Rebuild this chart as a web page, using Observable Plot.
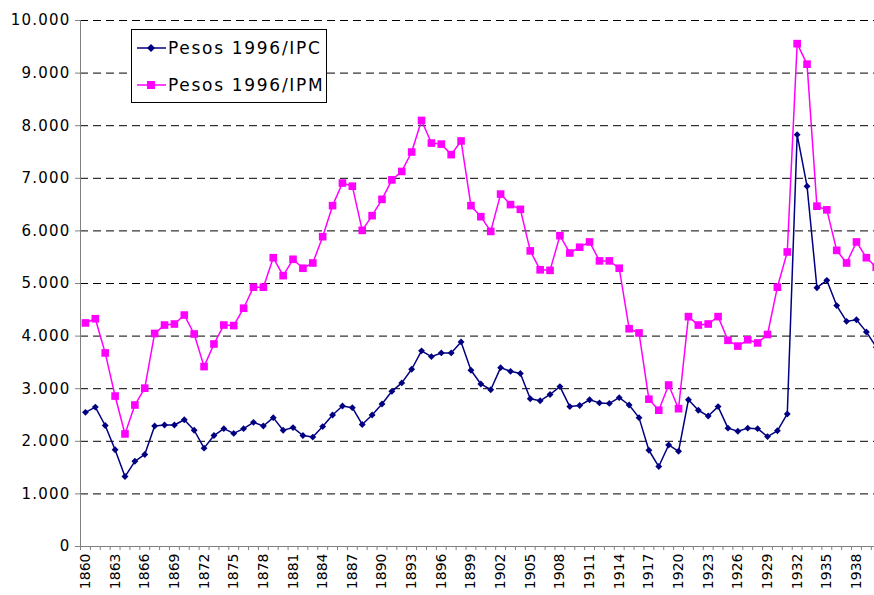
<!DOCTYPE html>
<html><head><meta charset="utf-8">
<script src="https://cdn.jsdelivr.net/npm/d3@7"></script>
<script src="https://cdn.jsdelivr.net/npm/@observablehq/plot@0.6"></script>
<style>
html,body{margin:0;padding:0;background:#fff;overflow:hidden;}
#wrap{position:relative;width:874px;height:595px;overflow:hidden;}
#legend{position:absolute;left:131px;top:29px;width:194px;height:72px;border:1px solid #000;background:#fff;font-family:"DejaVu Sans",sans-serif;font-size:17px;letter-spacing:1.7px;color:#000;}
.row{position:absolute;left:5px;height:20px;display:flex;align-items:center;white-space:nowrap;}
.row svg{margin-right:2px;}
.yax text{letter-spacing:1.2px;}
</style>
</head><body>
<div id="wrap"></div>
<script>
const years = [1860,1861,1862,1863,1864,1865,1866,1867,1868,1869,
1870,1871,1872,1873,1874,1875,1876,1877,1878,1879,
1880,1881,1882,1883,1884,1885,1886,1887,1888,1889,
1890,1891,1892,1893,1894,1895,1896,1897,1898,1899,
1900,1901,1902,1903,1904,1905,1906,1907,1908,1909,
1910,1911,1912,1913,1914,1915,1916,1917,1918,1919,
1920,1921,1922,1923,1924,1925,1926,1927,1928,1929,
1930,1931,1932,1933,1934,1935,1936,1937,1938,1939,1940];

const ipc = [2550,2650,2300,1840,1330,1620,1750,2290,2310,2310,
2410,2210,1870,2110,2240,2150,2240,2360,2290,2450,
2210,2260,2110,2080,2280,2500,2670,2640,2320,2500,
2710,2950,3110,3370,3720,3610,3680,3680,3890,3350,
3090,2980,3400,3330,3290,2810,2770,2890,3040,2660,
2680,2790,2730,2720,2830,2690,2450,1830,1520,1930,
1810,2790,2590,2480,2660,2250,2190,2250,2240,2090,
2200,2520,7830,6850,4920,5060,4580,4280,4310,4080,3790];

const ipm = [4250,4330,3680,2860,2140,2690,3010,4050,4210,4230,
4400,4040,3420,3850,4210,4200,4530,4930,4930,5490,
5150,5460,5290,5390,5890,6480,6910,6850,6010,6290,
6600,6970,7130,7500,8100,7670,7650,7450,7710,6480,
6270,5990,6700,6500,6410,5620,5260,5250,5910,5580,
5690,5790,5430,5430,5290,4140,4060,2800,2590,3070,
2620,4370,4210,4230,4370,3920,3810,3930,3870,4030,
4930,5600,9560,9170,6470,6400,5630,5390,5790,5490,5310];

const seriesNames = ["Pesos 1996/IPC", "Pesos 1996/IPM"];
const seriesColors = ["#000080", "#FF00FF"];
const yTicks = [0,1000,2000,3000,4000,5000,6000,7000,8000,9000,10000];
const xLabelYears = [1860,1863,1866,1869,1872,1875,1878,1881,1884,1887,1890,1893,1896,1899,1902,1905,1908,1911,1914,1917,1920,1923,1926,1929,1932,1935,1938];

const fmt = d3.formatLocale({decimal: ",", thousands: ".", grouping: [3], currency: ["", ""]}).format(",");
const rowsIPC = years.map((y, i) => ({year: y, v: ipc[i]}));
const rowsIPM = years.map((y, i) => ({year: y, v: ipm[i]}));
const boundaries = years.map(y => y - 0.5).concat([years[years.length - 1] + 0.5]);
const band = 9.885;

const chart = Plot.plot({
  width: 874, height: 595,
  marginLeft: 80, marginRight: 0, marginTop: 20, marginBottom: 49,
  style: {fontFamily: "DejaVu Sans, sans-serif", background: "white"},
  x: {domain: [boundaries[0], boundaries[boundaries.length - 1]], range: [80, 80 + years.length * band], axis: null},
  y: {domain: [0, 10000], axis: null},
  marks: [
    Plot.ruleY(yTicks.filter(d => d > 0), {stroke: "#000", strokeDasharray: "8,5", strokeWidth: 1}),
    Plot.ruleY([0], {stroke: "#808080"}),
    Plot.ruleX([boundaries[0]], {stroke: "#808080"}),
    Plot.axisY({ticks: yTicks, tickSize: 5, tickPadding: 5, tickFormat: fmt, fontSize: 15, stroke: "#808080", fill: "#000", label: null, className: "yax"}),
    Plot.axisX({ticks: boundaries, tickSize: 4, tickFormat: () => "", stroke: "#808080", label: null}),
    Plot.axisX({ticks: xLabelYears, tickSize: 0, tickPadding: 7, tickRotate: -90, tickFormat: d => String(d), fontSize: 14, fill: "#000", label: null}),
    Plot.line(rowsIPC, {x: "year", y: "v", stroke: seriesColors[0], strokeWidth: 1.5}),
    Plot.dot(rowsIPC, {x: "year", y: "v", symbol: "diamond2", r: 3.1, fill: seriesColors[0], stroke: "none"}),
    Plot.line(rowsIPM, {x: "year", y: "v", stroke: seriesColors[1], strokeWidth: 1.5}),
    Plot.dot(rowsIPM, {x: "year", y: "v", symbol: "square", r: 4.3, fill: seriesColors[1], stroke: "none"})
  ]
});
const wrap = document.getElementById("wrap");
wrap.appendChild(chart);

const legend = document.createElement("div");
legend.id = "legend";
const centers = [18, 55];
seriesNames.forEach((name, i) => {
  const row = document.createElement("div");
  row.className = "row";
  row.style.top = (centers[i] - 10) + "px";
  const marker = i === 0
    ? `<path d="M14,6 L18,10 L14,14 L10,10 Z" fill="${seriesColors[i]}"/>`
    : `<rect x="10" y="6" width="8" height="8" fill="${seriesColors[i]}"/>`;
  row.innerHTML = `<svg width="29" height="20"><line x1="0" y1="10" x2="29" y2="10" stroke="${seriesColors[i]}" stroke-width="1.5"/>${marker}</svg><span>${name}</span>`;
  legend.appendChild(row);
});
wrap.appendChild(legend);
</script>
</body></html>
